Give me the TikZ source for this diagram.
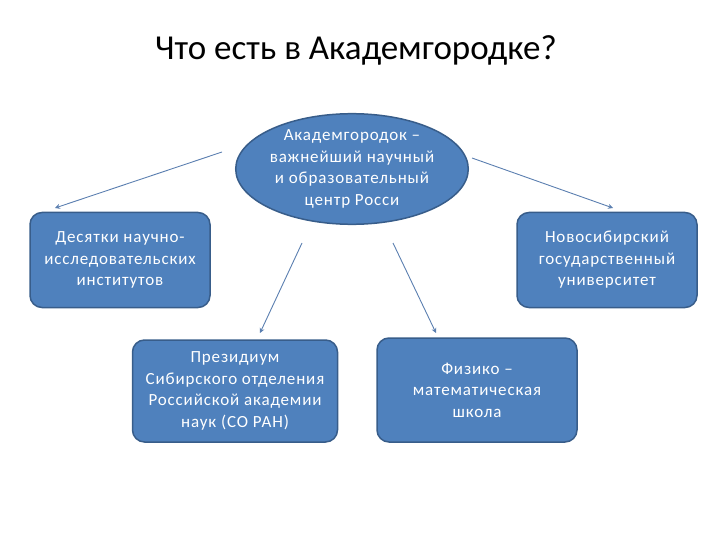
\documentclass[tikz,border=0pt]{standalone}
\usepackage{fontspec}
\setmainfont{Carlito}
\usetikzlibrary{shapes.geometric,arrows.meta}
\definecolor{boxfill}{HTML}{4F81BD}
\definecolor{boxline}{HTML}{385D8A}
\definecolor{arr}{HTML}{5B7FB0}
\begin{document}
\begin{tikzpicture}[x=1pt,y=-1pt,
  box/.style={draw=boxline,line width=1.5pt,fill=boxfill,rounded corners=12pt,text=white,align=center,font=\fontsize{17}{21.5}\selectfont\addfontfeatures{LetterSpace=5}},
  conn/.style={draw=arr,line width=0.9pt,-{Stealth[length=5pt,width=5pt]}}]
\useasboundingbox (0,0) rectangle (720,540);
\node (title) at (356,50) {\fontsize{35}{40}\selectfont Что есть в Академгородке?};
\node[box,ellipse,minimum width=202pt,minimum height=98pt,inner sep=0pt] (center) at (352,169) {Академгородок –\\важнейший научный\\и образовательный\\центр Росси};
\node[box,minimum width=180pt,minimum height=95pt] (left) at (120,260) {Десятки научно-\\исследовательских\\институтов};
\node[box,minimum width=180pt,minimum height=95pt] (right) at (607,260) {Новосибирский\\государственный\\университет};
\node[box,minimum width=205pt,minimum height=102pt] (bl) at (235,391) {Президиум\\Сибирского отделения\\Российской академии\\наук (СО РАН)};
\node[box,minimum width=200pt,minimum height=104pt] (br) at (477,390) {Физико –\\математическая\\школа};
\coordinate (s1) at (222,152); \coordinate (e1) at (55,208);
\coordinate (s2) at (472,158); \coordinate (e2) at (613,208);
\coordinate (s3) at (302,243); \coordinate (e3) at (260,333);
\coordinate (s4) at (393,243); \coordinate (e4) at (436,333);
\draw[conn] (s1) -- (e1);
\draw[conn] (s2) -- (e2);
\draw[conn] (s3) -- (e3);
\draw[conn] (s4) -- (e4);
\end{tikzpicture}
\end{document}
